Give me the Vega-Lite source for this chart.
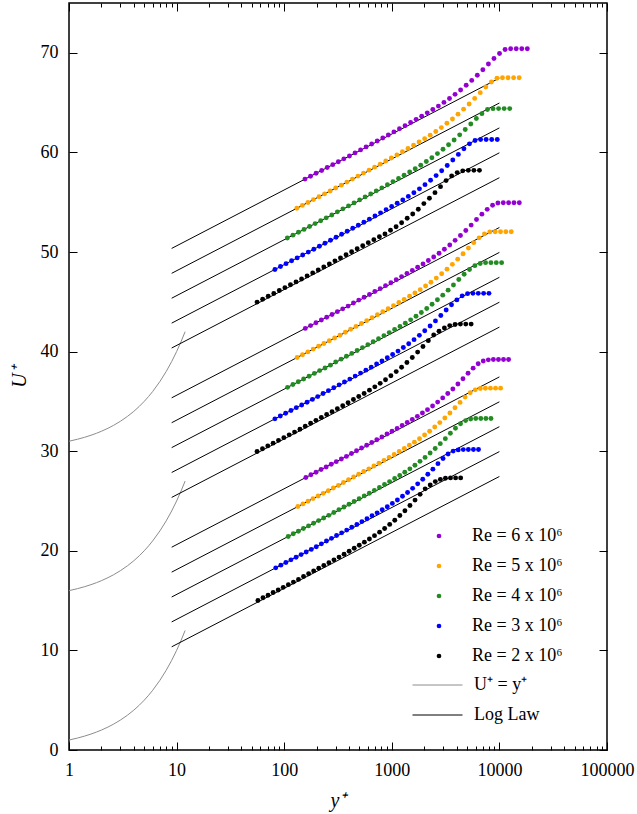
{
"$schema":"https://vega.github.io/schema/vega-lite/v6.json",
"width":538,"height":747,
"autosize":"none",
"padding":{"left":69,"top":3,"right":30,"bottom":64},
"background":"white",
"config":{
 "view":{"stroke":"black","strokeWidth":1.5},
 "axis":{"domain":false,"grid":false,"tickColor":"black","tickWidth":1,"labelFont":"Liberation Serif","labelFontSize":18,"labelColor":"black","labelFlush":false,"labelOverlap":false,"titleFont":"Liberation Serif","titleFontSize":20,"titleFontWeight":"normal","titleFontStyle":"italic","titleColor":"black"},
 "legend":{"labelFont":"Liberation Serif","labelFontSize":18,"labelColor":"black","padding":0,"rowPadding":12,"clipHeight":18}
},
"datasets":{
"wall":[
{"id":"w0","kind":"U⁺ = y⁺","x":1,"u":1},{"id":"w0","kind":"U⁺ = y⁺","x":1.2,"u":1.2},{"id":"w0","kind":"U⁺ = y⁺","x":1.4,"u":1.4},{"id":"w0","kind":"U⁺ = y⁺","x":1.6,"u":1.6},{"id":"w0","kind":"U⁺ = y⁺","x":1.8,"u":1.8},{"id":"w0","kind":"U⁺ = y⁺","x":2,"u":2},{"id":"w0","kind":"U⁺ = y⁺","x":2.3,"u":2.3},{"id":"w0","kind":"U⁺ = y⁺","x":2.6,"u":2.6},{"id":"w0","kind":"U⁺ = y⁺","x":3,"u":3},{"id":"w0","kind":"U⁺ = y⁺","x":3.5,"u":3.5},{"id":"w0","kind":"U⁺ = y⁺","x":4,"u":4},{"id":"w0","kind":"U⁺ = y⁺","x":4.5,"u":4.5},{"id":"w0","kind":"U⁺ = y⁺","x":5,"u":5},{"id":"w0","kind":"U⁺ = y⁺","x":5.5,"u":5.5},{"id":"w0","kind":"U⁺ = y⁺","x":6,"u":6},{"id":"w0","kind":"U⁺ = y⁺","x":7,"u":7},{"id":"w0","kind":"U⁺ = y⁺","x":8,"u":8},{"id":"w0","kind":"U⁺ = y⁺","x":9,"u":9},{"id":"w0","kind":"U⁺ = y⁺","x":10,"u":10},{"id":"w0","kind":"U⁺ = y⁺","x":11,"u":11},{"id":"w0","kind":"U⁺ = y⁺","x":12,"u":12},
{"id":"w15","kind":"U⁺ = y⁺","x":1,"u":16},{"id":"w15","kind":"U⁺ = y⁺","x":1.2,"u":16.2},{"id":"w15","kind":"U⁺ = y⁺","x":1.4,"u":16.4},{"id":"w15","kind":"U⁺ = y⁺","x":1.6,"u":16.6},{"id":"w15","kind":"U⁺ = y⁺","x":1.8,"u":16.8},{"id":"w15","kind":"U⁺ = y⁺","x":2,"u":17},{"id":"w15","kind":"U⁺ = y⁺","x":2.3,"u":17.3},{"id":"w15","kind":"U⁺ = y⁺","x":2.6,"u":17.6},{"id":"w15","kind":"U⁺ = y⁺","x":3,"u":18},{"id":"w15","kind":"U⁺ = y⁺","x":3.5,"u":18.5},{"id":"w15","kind":"U⁺ = y⁺","x":4,"u":19},{"id":"w15","kind":"U⁺ = y⁺","x":4.5,"u":19.5},{"id":"w15","kind":"U⁺ = y⁺","x":5,"u":20},{"id":"w15","kind":"U⁺ = y⁺","x":5.5,"u":20.5},{"id":"w15","kind":"U⁺ = y⁺","x":6,"u":21},{"id":"w15","kind":"U⁺ = y⁺","x":7,"u":22},{"id":"w15","kind":"U⁺ = y⁺","x":8,"u":23},{"id":"w15","kind":"U⁺ = y⁺","x":9,"u":24},{"id":"w15","kind":"U⁺ = y⁺","x":10,"u":25},{"id":"w15","kind":"U⁺ = y⁺","x":11,"u":26},{"id":"w15","kind":"U⁺ = y⁺","x":12,"u":27},
{"id":"w30","kind":"U⁺ = y⁺","x":1,"u":31},{"id":"w30","kind":"U⁺ = y⁺","x":1.2,"u":31.2},{"id":"w30","kind":"U⁺ = y⁺","x":1.4,"u":31.4},{"id":"w30","kind":"U⁺ = y⁺","x":1.6,"u":31.6},{"id":"w30","kind":"U⁺ = y⁺","x":1.8,"u":31.8},{"id":"w30","kind":"U⁺ = y⁺","x":2,"u":32},{"id":"w30","kind":"U⁺ = y⁺","x":2.3,"u":32.3},{"id":"w30","kind":"U⁺ = y⁺","x":2.6,"u":32.6},{"id":"w30","kind":"U⁺ = y⁺","x":3,"u":33},{"id":"w30","kind":"U⁺ = y⁺","x":3.5,"u":33.5},{"id":"w30","kind":"U⁺ = y⁺","x":4,"u":34},{"id":"w30","kind":"U⁺ = y⁺","x":4.5,"u":34.5},{"id":"w30","kind":"U⁺ = y⁺","x":5,"u":35},{"id":"w30","kind":"U⁺ = y⁺","x":5.5,"u":35.5},{"id":"w30","kind":"U⁺ = y⁺","x":6,"u":36},{"id":"w30","kind":"U⁺ = y⁺","x":7,"u":37},{"id":"w30","kind":"U⁺ = y⁺","x":8,"u":38},{"id":"w30","kind":"U⁺ = y⁺","x":9,"u":39},{"id":"w30","kind":"U⁺ = y⁺","x":10,"u":40},{"id":"w30","kind":"U⁺ = y⁺","x":11,"u":41},{"id":"w30","kind":"U⁺ = y⁺","x":12,"u":42}
],
"loglaw":[
{"id":"L1","kind":"Log Law","x":9,"u":10.36},{"id":"L1","kind":"Log Law","x":10000,"u":27.46},
{"id":"L2","kind":"Log Law","x":9,"u":12.86},{"id":"L2","kind":"Log Law","x":10000,"u":29.96},
{"id":"L3","kind":"Log Law","x":9,"u":15.36},{"id":"L3","kind":"Log Law","x":10000,"u":32.46},
{"id":"L4","kind":"Log Law","x":9,"u":17.86},{"id":"L4","kind":"Log Law","x":10000,"u":34.96},
{"id":"L5","kind":"Log Law","x":9,"u":20.36},{"id":"L5","kind":"Log Law","x":10000,"u":37.46},
{"id":"L6","kind":"Log Law","x":9,"u":25.36},{"id":"L6","kind":"Log Law","x":10000,"u":42.46},
{"id":"L7","kind":"Log Law","x":9,"u":27.86},{"id":"L7","kind":"Log Law","x":10000,"u":44.96},
{"id":"L8","kind":"Log Law","x":9,"u":30.36},{"id":"L8","kind":"Log Law","x":10000,"u":47.46},
{"id":"L9","kind":"Log Law","x":9,"u":32.86},{"id":"L9","kind":"Log Law","x":10000,"u":49.96},
{"id":"L10","kind":"Log Law","x":9,"u":35.36},{"id":"L10","kind":"Log Law","x":10000,"u":52.46},
{"id":"L11","kind":"Log Law","x":9,"u":40.36},{"id":"L11","kind":"Log Law","x":10000,"u":57.46},
{"id":"L12","kind":"Log Law","x":9,"u":42.86},{"id":"L12","kind":"Log Law","x":10000,"u":59.96},
{"id":"L13","kind":"Log Law","x":9,"u":45.36},{"id":"L13","kind":"Log Law","x":10000,"u":62.46},
{"id":"L14","kind":"Log Law","x":9,"u":47.86},{"id":"L14","kind":"Log Law","x":10000,"u":64.96},
{"id":"L15","kind":"Log Law","x":9,"u":50.36},{"id":"L15","kind":"Log Law","x":10000,"u":67.46}
],
"pts":[
{"r":6,"x":156,"u":57.32},{"r":6,"x":175.7,"u":57.61},{"r":6,"x":197.9,"u":57.9},{"r":6,"x":222.9,"u":58.19},{"r":6,"x":251.1,"u":58.48},{"r":6,"x":282.8,"u":58.77},{"r":6,"x":318.5,"u":59.06},{"r":6,"x":358.7,"u":59.35},{"r":6,"x":404,"u":59.64},{"r":6,"x":455,"u":59.95},{"r":6,"x":512.5,"u":60.25},{"r":6,"x":577.2,"u":60.55},{"r":6,"x":650.2,"u":60.85},{"r":6,"x":732.3,"u":61.15},{"r":6,"x":824.8,"u":61.45},{"r":6,"x":929,"u":61.75},{"r":6,"x":1046,"u":62.06},{"r":6,"x":1178,"u":62.37},{"r":6,"x":1327,"u":62.68},{"r":6,"x":1495,"u":63.0},{"r":6,"x":1684,"u":63.32},{"r":6,"x":1897,"u":63.64},{"r":6,"x":2136,"u":63.97},{"r":6,"x":2406,"u":64.3},{"r":6,"x":2710,"u":64.65},{"r":6,"x":3052,"u":65.02},{"r":6,"x":3438,"u":65.41},{"r":6,"x":3872,"u":65.83},{"r":6,"x":4361,"u":66.27},{"r":6,"x":4912,"u":66.74},{"r":6,"x":5532,"u":67.23},{"r":6,"x":6231,"u":67.75},{"r":6,"x":7018,"u":68.3},{"r":6,"x":7904,"u":68.87},{"r":6,"x":8903,"u":69.43},{"r":6,"x":10027,"u":69.93},{"r":6,"x":11294,"u":70.33},{"r":6,"x":12721,"u":70.4},{"r":6,"x":14328,"u":70.4},{"r":6,"x":16137,"u":70.4},{"r":6,"x":18176,"u":70.4},
{"r":5,"x":131,"u":54.39},{"r":5,"x":147.5,"u":54.68},{"r":5,"x":166.2,"u":54.97},{"r":5,"x":187.2,"u":55.26},{"r":5,"x":210.8,"u":55.55},{"r":5,"x":237.4,"u":55.84},{"r":5,"x":267.4,"u":56.13},{"r":5,"x":301.2,"u":56.42},{"r":5,"x":339.3,"u":56.71},{"r":5,"x":382.1,"u":57.02},{"r":5,"x":430.4,"u":57.32},{"r":5,"x":484.7,"u":57.62},{"r":5,"x":546,"u":57.92},{"r":5,"x":614.9,"u":58.22},{"r":5,"x":692.6,"u":58.52},{"r":5,"x":780.1,"u":58.82},{"r":5,"x":878.6,"u":59.13},{"r":5,"x":989.6,"u":59.44},{"r":5,"x":1115,"u":59.75},{"r":5,"x":1255,"u":60.07},{"r":5,"x":1414,"u":60.4},{"r":5,"x":1593,"u":60.72},{"r":5,"x":1794,"u":61.05},{"r":5,"x":2020,"u":61.38},{"r":5,"x":2275,"u":61.73},{"r":5,"x":2563,"u":62.1},{"r":5,"x":2887,"u":62.49},{"r":5,"x":3251,"u":62.92},{"r":5,"x":3662,"u":63.36},{"r":5,"x":4125,"u":63.84},{"r":5,"x":4646,"u":64.34},{"r":5,"x":5232,"u":64.86},{"r":5,"x":5893,"u":65.42},{"r":5,"x":6638,"u":66.0},{"r":5,"x":7476,"u":66.56},{"r":5,"x":8420,"u":67.07},{"r":5,"x":9484,"u":67.45},{"r":5,"x":10682,"u":67.5},{"r":5,"x":12031,"u":67.5},{"r":5,"x":13551,"u":67.5},{"r":5,"x":15263,"u":67.5},
{"r":4,"x":107,"u":51.4},{"r":4,"x":120.5,"u":51.69},{"r":4,"x":135.7,"u":51.98},{"r":4,"x":152.9,"u":52.27},{"r":4,"x":172.2,"u":52.56},{"r":4,"x":193.9,"u":52.85},{"r":4,"x":218.4,"u":53.14},{"r":4,"x":246,"u":53.43},{"r":4,"x":277.1,"u":53.72},{"r":4,"x":312.1,"u":54.03},{"r":4,"x":351.5,"u":54.33},{"r":4,"x":395.9,"u":54.63},{"r":4,"x":445.9,"u":54.93},{"r":4,"x":502.3,"u":55.23},{"r":4,"x":565.7,"u":55.53},{"r":4,"x":637.2,"u":55.83},{"r":4,"x":717.6,"u":56.14},{"r":4,"x":808.3,"u":56.44},{"r":4,"x":910.4,"u":56.75},{"r":4,"x":1025,"u":57.07},{"r":4,"x":1155,"u":57.39},{"r":4,"x":1301,"u":57.71},{"r":4,"x":1465,"u":58.04},{"r":4,"x":1650,"u":58.36},{"r":4,"x":1859,"u":58.71},{"r":4,"x":2093,"u":59.08},{"r":4,"x":2358,"u":59.46},{"r":4,"x":2656,"u":59.88},{"r":4,"x":2991,"u":60.31},{"r":4,"x":3369,"u":60.77},{"r":4,"x":3794,"u":61.25},{"r":4,"x":4274,"u":61.76},{"r":4,"x":4814,"u":62.3},{"r":4,"x":5422,"u":62.85},{"r":4,"x":6106,"u":63.4},{"r":4,"x":6878,"u":63.89},{"r":4,"x":7747,"u":64.3},{"r":4,"x":8725,"u":64.39},{"r":4,"x":9827,"u":64.4},{"r":4,"x":11068,"u":64.4},{"r":4,"x":12467,"u":64.4},
{"r":3,"x":82,"u":48.25},{"r":3,"x":92.36,"u":48.54},{"r":3,"x":104,"u":48.83},{"r":3,"x":117.2,"u":49.12},{"r":3,"x":132,"u":49.41},{"r":3,"x":148.6,"u":49.7},{"r":3,"x":167.4,"u":49.99},{"r":3,"x":188.5,"u":50.28},{"r":3,"x":212.4,"u":50.57},{"r":3,"x":239.2,"u":50.88},{"r":3,"x":269.4,"u":51.18},{"r":3,"x":303.4,"u":51.48},{"r":3,"x":341.8,"u":51.78},{"r":3,"x":384.9,"u":52.08},{"r":3,"x":433.5,"u":52.38},{"r":3,"x":488.3,"u":52.68},{"r":3,"x":550,"u":52.99},{"r":3,"x":619.4,"u":53.3},{"r":3,"x":697.7,"u":53.61},{"r":3,"x":785.8,"u":53.93},{"r":3,"x":885.1,"u":54.25},{"r":3,"x":996.9,"u":54.57},{"r":3,"x":1123,"u":54.9},{"r":3,"x":1265,"u":55.23},{"r":3,"x":1424,"u":55.58},{"r":3,"x":1604,"u":55.95},{"r":3,"x":1807,"u":56.34},{"r":3,"x":2035,"u":56.76},{"r":3,"x":2292,"u":57.2},{"r":3,"x":2582,"u":57.67},{"r":3,"x":2908,"u":58.16},{"r":3,"x":3275,"u":58.68},{"r":3,"x":3689,"u":59.23},{"r":3,"x":4155,"u":59.8},{"r":3,"x":4680,"u":60.36},{"r":3,"x":5271,"u":60.86},{"r":3,"x":5937,"u":61.2},{"r":3,"x":6687,"u":61.29},{"r":3,"x":7531,"u":61.3},{"r":3,"x":8482,"u":61.3},{"r":3,"x":9554,"u":61.3},
{"r":2,"x":56,"u":44.97},{"r":2,"x":63.07,"u":45.26},{"r":2,"x":71.04,"u":45.55},{"r":2,"x":80.01,"u":45.84},{"r":2,"x":90.12,"u":46.13},{"r":2,"x":101.5,"u":46.42},{"r":2,"x":114.3,"u":46.71},{"r":2,"x":128.8,"u":47.0},{"r":2,"x":145,"u":47.29},{"r":2,"x":163.3,"u":47.6},{"r":2,"x":184,"u":47.9},{"r":2,"x":207.2,"u":48.2},{"r":2,"x":233.4,"u":48.5},{"r":2,"x":262.9,"u":48.8},{"r":2,"x":296.1,"u":49.11},{"r":2,"x":333.5,"u":49.41},{"r":2,"x":375.6,"u":49.72},{"r":2,"x":423,"u":50.02},{"r":2,"x":476.5,"u":50.32},{"r":2,"x":536.7,"u":50.63},{"r":2,"x":604.5,"u":50.94},{"r":2,"x":680.8,"u":51.24},{"r":2,"x":766.8,"u":51.53},{"r":2,"x":863.6,"u":51.81},{"r":2,"x":972.7,"u":52.18},{"r":2,"x":1096,"u":52.54},{"r":2,"x":1234,"u":52.94},{"r":2,"x":1390,"u":53.39},{"r":2,"x":1565,"u":53.82},{"r":2,"x":1763,"u":54.29},{"r":2,"x":1986,"u":54.86},{"r":2,"x":2237,"u":55.4},{"r":2,"x":2519,"u":55.96},{"r":2,"x":2837,"u":56.56},{"r":2,"x":3196,"u":57.17},{"r":2,"x":3600,"u":57.64},{"r":2,"x":4054,"u":57.97},{"r":2,"x":4566,"u":58.15},{"r":2,"x":5143,"u":58.2},{"r":2,"x":5793,"u":58.2},{"r":2,"x":6525,"u":58.2},
{"r":6,"x":157,"u":42.33},{"r":6,"x":176,"u":42.61},{"r":6,"x":197.4,"u":42.89},{"r":6,"x":221.4,"u":43.17},{"r":6,"x":248.2,"u":43.45},{"r":6,"x":278.3,"u":43.73},{"r":6,"x":312.1,"u":44.01},{"r":6,"x":350,"u":44.29},{"r":6,"x":392.4,"u":44.57},{"r":6,"x":440,"u":44.88},{"r":6,"x":493.4,"u":45.17},{"r":6,"x":553.3,"u":45.45},{"r":6,"x":620.4,"u":45.74},{"r":6,"x":695.6,"u":46.03},{"r":6,"x":780,"u":46.32},{"r":6,"x":874.7,"u":46.62},{"r":6,"x":980.8,"u":46.92},{"r":6,"x":1100,"u":47.22},{"r":6,"x":1233,"u":47.53},{"r":6,"x":1383,"u":47.84},{"r":6,"x":1551,"u":48.15},{"r":6,"x":1739,"u":48.47},{"r":6,"x":1950,"u":48.8},{"r":6,"x":2186,"u":49.14},{"r":6,"x":2451,"u":49.5},{"r":6,"x":2749,"u":49.87},{"r":6,"x":3082,"u":50.28},{"r":6,"x":3456,"u":50.71},{"r":6,"x":3876,"u":51.17},{"r":6,"x":4346,"u":51.65},{"r":6,"x":4873,"u":52.16},{"r":6,"x":5464,"u":52.7},{"r":6,"x":6127,"u":53.26},{"r":6,"x":6870,"u":53.8},{"r":6,"x":7704,"u":54.28},{"r":6,"x":8639,"u":54.69},{"r":6,"x":9687,"u":54.92},{"r":6,"x":10862,"u":54.95},{"r":6,"x":12180,"u":54.95},{"r":6,"x":13657,"u":54.95},{"r":6,"x":15314,"u":54.95},
{"r":5,"x":132,"u":39.41},{"r":5,"x":148,"u":39.69},{"r":5,"x":166,"u":39.97},{"r":5,"x":186.1,"u":40.25},{"r":5,"x":208.7,"u":40.53},{"r":5,"x":234,"u":40.81},{"r":5,"x":262.4,"u":41.09},{"r":5,"x":294.2,"u":41.36},{"r":5,"x":329.9,"u":41.64},{"r":5,"x":370,"u":41.95},{"r":5,"x":414.8,"u":42.24},{"r":5,"x":465.2,"u":42.53},{"r":5,"x":521.6,"u":42.82},{"r":5,"x":584.9,"u":43.11},{"r":5,"x":655.8,"u":43.4},{"r":5,"x":735.4,"u":43.7},{"r":5,"x":824.6,"u":44.0},{"r":5,"x":924.6,"u":44.3},{"r":5,"x":1037,"u":44.61},{"r":5,"x":1163,"u":44.93},{"r":5,"x":1304,"u":45.24},{"r":5,"x":1462,"u":45.55},{"r":5,"x":1639,"u":45.88},{"r":5,"x":1838,"u":46.22},{"r":5,"x":2061,"u":46.58},{"r":5,"x":2311,"u":46.96},{"r":5,"x":2591,"u":47.38},{"r":5,"x":2906,"u":47.81},{"r":5,"x":3258,"u":48.28},{"r":5,"x":3654,"u":48.76},{"r":5,"x":4097,"u":49.28},{"r":5,"x":4594,"u":49.82},{"r":5,"x":5151,"u":50.39},{"r":5,"x":5776,"u":50.94},{"r":5,"x":6477,"u":51.42},{"r":5,"x":7263,"u":51.82},{"r":5,"x":8144,"u":52.02},{"r":5,"x":9132,"u":52.04},{"r":5,"x":10240,"u":52.04},{"r":5,"x":11483,"u":52.04},{"r":5,"x":12875,"u":52.04},
{"r":4,"x":107.5,"u":36.41},{"r":4,"x":120.5,"u":36.69},{"r":4,"x":135.2,"u":36.97},{"r":4,"x":151.6,"u":37.25},{"r":4,"x":170,"u":37.53},{"r":4,"x":190.6,"u":37.81},{"r":4,"x":213.7,"u":38.09},{"r":4,"x":239.6,"u":38.36},{"r":4,"x":268.7,"u":38.64},{"r":4,"x":301.3,"u":38.95},{"r":4,"x":337.8,"u":39.24},{"r":4,"x":378.8,"u":39.53},{"r":4,"x":424.8,"u":39.82},{"r":4,"x":476.3,"u":40.11},{"r":4,"x":534.1,"u":40.4},{"r":4,"x":598.9,"u":40.7},{"r":4,"x":671.6,"u":40.99},{"r":4,"x":753,"u":41.29},{"r":4,"x":844.4,"u":41.6},{"r":4,"x":946.8,"u":41.91},{"r":4,"x":1062,"u":42.22},{"r":4,"x":1191,"u":42.53},{"r":4,"x":1335,"u":42.85},{"r":4,"x":1497,"u":43.19},{"r":4,"x":1678,"u":43.55},{"r":4,"x":1882,"u":43.92},{"r":4,"x":2111,"u":44.33},{"r":4,"x":2367,"u":44.75},{"r":4,"x":2654,"u":45.2},{"r":4,"x":2976,"u":45.67},{"r":4,"x":3337,"u":46.17},{"r":4,"x":3741,"u":46.69},{"r":4,"x":4195,"u":47.24},{"r":4,"x":4704,"u":47.77},{"r":4,"x":5275,"u":48.24},{"r":4,"x":5915,"u":48.63},{"r":4,"x":6633,"u":48.85},{"r":4,"x":7437,"u":48.93},{"r":4,"x":8340,"u":48.93},{"r":4,"x":9351,"u":48.93},{"r":4,"x":10486,"u":48.93},
{"r":3,"x":82,"u":33.25},{"r":3,"x":91.95,"u":33.53},{"r":3,"x":103.1,"u":33.81},{"r":3,"x":115.6,"u":34.09},{"r":3,"x":129.6,"u":34.37},{"r":3,"x":145.4,"u":34.64},{"r":3,"x":163,"u":34.92},{"r":3,"x":182.8,"u":35.2},{"r":3,"x":205,"u":35.48},{"r":3,"x":229.8,"u":35.79},{"r":3,"x":257.7,"u":36.08},{"r":3,"x":289,"u":36.37},{"r":3,"x":324,"u":36.66},{"r":3,"x":363.3,"u":36.95},{"r":3,"x":407.4,"u":37.24},{"r":3,"x":456.8,"u":37.54},{"r":3,"x":512.3,"u":37.84},{"r":3,"x":574.4,"u":38.14},{"r":3,"x":644.1,"u":38.44},{"r":3,"x":722.2,"u":38.75},{"r":3,"x":809.9,"u":39.06},{"r":3,"x":908.1,"u":39.38},{"r":3,"x":1018,"u":39.71},{"r":3,"x":1142,"u":40.05},{"r":3,"x":1280,"u":40.41},{"r":3,"x":1436,"u":40.79},{"r":3,"x":1610,"u":41.2},{"r":3,"x":1805,"u":41.63},{"r":3,"x":2024,"u":42.09},{"r":3,"x":2270,"u":42.57},{"r":3,"x":2545,"u":43.08},{"r":3,"x":2854,"u":43.62},{"r":3,"x":3200,"u":44.18},{"r":3,"x":3588,"u":44.71},{"r":3,"x":4024,"u":45.19},{"r":3,"x":4512,"u":45.6},{"r":3,"x":5059,"u":45.82},{"r":3,"x":5673,"u":45.85},{"r":3,"x":6361,"u":45.85},{"r":3,"x":7133,"u":45.85},{"r":3,"x":7998,"u":45.85},
{"r":2,"x":56,"u":29.97},{"r":2,"x":62.79,"u":30.25},{"r":2,"x":70.41,"u":30.53},{"r":2,"x":78.95,"u":30.81},{"r":2,"x":88.53,"u":31.09},{"r":2,"x":99.27,"u":31.36},{"r":2,"x":111.3,"u":31.64},{"r":2,"x":124.8,"u":31.92},{"r":2,"x":140,"u":32.2},{"r":2,"x":156.9,"u":32.51},{"r":2,"x":176,"u":32.8},{"r":2,"x":197.3,"u":33.1},{"r":2,"x":221.3,"u":33.39},{"r":2,"x":248.1,"u":33.68},{"r":2,"x":278.2,"u":33.97},{"r":2,"x":312,"u":34.27},{"r":2,"x":349.8,"u":34.57},{"r":2,"x":392.3,"u":34.87},{"r":2,"x":439.9,"u":35.19},{"r":2,"x":493.2,"u":35.49},{"r":2,"x":553.1,"u":35.8},{"r":2,"x":620.2,"u":36.13},{"r":2,"x":695.4,"u":36.46},{"r":2,"x":779.8,"u":36.81},{"r":2,"x":874.4,"u":37.18},{"r":2,"x":980.5,"u":37.57},{"r":2,"x":1099,"u":37.99},{"r":2,"x":1233,"u":38.43},{"r":2,"x":1382,"u":38.91},{"r":2,"x":1550,"u":39.41},{"r":2,"x":1738,"u":39.95},{"r":2,"x":1949,"u":40.51},{"r":2,"x":2185,"u":41.1},{"r":2,"x":2451,"u":41.66},{"r":2,"x":2748,"u":42.05},{"r":2,"x":3081,"u":42.38},{"r":2,"x":3455,"u":42.61},{"r":2,"x":3874,"u":42.72},{"r":2,"x":4344,"u":42.76},{"r":2,"x":4871,"u":42.76},{"r":2,"x":5462,"u":42.76},
{"r":6,"x":159,"u":27.36},{"r":6,"x":177.2,"u":27.63},{"r":6,"x":197.5,"u":27.89},{"r":6,"x":220.1,"u":28.16},{"r":6,"x":245.4,"u":28.42},{"r":6,"x":273.5,"u":28.69},{"r":6,"x":304.8,"u":28.95},{"r":6,"x":339.7,"u":29.22},{"r":6,"x":378.6,"u":29.48},{"r":6,"x":422,"u":29.77},{"r":6,"x":470.3,"u":30.05},{"r":6,"x":524.2,"u":30.32},{"r":6,"x":584.2,"u":30.6},{"r":6,"x":651.2,"u":30.87},{"r":6,"x":725.8,"u":31.15},{"r":6,"x":808.9,"u":31.43},{"r":6,"x":901.6,"u":31.72},{"r":6,"x":1005,"u":32.0},{"r":6,"x":1120,"u":32.29},{"r":6,"x":1248,"u":32.59},{"r":6,"x":1391,"u":32.88},{"r":6,"x":1551,"u":33.19},{"r":6,"x":1728,"u":33.5},{"r":6,"x":1926,"u":33.83},{"r":6,"x":2147,"u":34.17},{"r":6,"x":2393,"u":34.54},{"r":6,"x":2667,"u":34.93},{"r":6,"x":2972,"u":35.35},{"r":6,"x":3313,"u":35.79},{"r":6,"x":3692,"u":36.25},{"r":6,"x":4115,"u":36.75},{"r":6,"x":4587,"u":37.27},{"r":6,"x":5112,"u":37.82},{"r":6,"x":5698,"u":38.34},{"r":6,"x":6350,"u":38.78},{"r":6,"x":7078,"u":39.06},{"r":6,"x":7888,"u":39.17},{"r":6,"x":8792,"u":39.2},{"r":6,"x":9799,"u":39.2},{"r":6,"x":10922,"u":39.2},{"r":6,"x":12173,"u":39.2},
{"r":5,"x":134,"u":24.45},{"r":5,"x":149.4,"u":24.71},{"r":5,"x":166.5,"u":24.98},{"r":5,"x":185.5,"u":25.24},{"r":5,"x":206.8,"u":25.5},{"r":5,"x":230.5,"u":25.77},{"r":5,"x":256.9,"u":26.03},{"r":5,"x":286.3,"u":26.3},{"r":5,"x":319.1,"u":26.56},{"r":5,"x":355.6,"u":26.86},{"r":5,"x":396.4,"u":27.13},{"r":5,"x":441.8,"u":27.41},{"r":5,"x":492.4,"u":27.68},{"r":5,"x":548.8,"u":27.96},{"r":5,"x":611.7,"u":28.23},{"r":5,"x":681.7,"u":28.51},{"r":5,"x":759.8,"u":28.8},{"r":5,"x":846.8,"u":29.08},{"r":5,"x":943.8,"u":29.38},{"r":5,"x":1052,"u":29.67},{"r":5,"x":1172,"u":29.97},{"r":5,"x":1307,"u":30.27},{"r":5,"x":1456,"u":30.59},{"r":5,"x":1623,"u":30.91},{"r":5,"x":1809,"u":31.25},{"r":5,"x":2017,"u":31.62},{"r":5,"x":2248,"u":32.01},{"r":5,"x":2505,"u":32.43},{"r":5,"x":2792,"u":32.87},{"r":5,"x":3112,"u":33.34},{"r":5,"x":3468,"u":33.83},{"r":5,"x":3865,"u":34.36},{"r":5,"x":4308,"u":34.9},{"r":5,"x":4802,"u":35.43},{"r":5,"x":5352,"u":35.87},{"r":5,"x":5965,"u":36.16},{"r":5,"x":6648,"u":36.29},{"r":5,"x":7410,"u":36.32},{"r":5,"x":8258,"u":36.33},{"r":5,"x":9204,"u":36.33},{"r":5,"x":10259,"u":36.33},
{"r":4,"x":109,"u":21.44},{"r":4,"x":121.5,"u":21.71},{"r":4,"x":135.4,"u":21.97},{"r":4,"x":150.9,"u":22.24},{"r":4,"x":168.2,"u":22.5},{"r":4,"x":187.5,"u":22.77},{"r":4,"x":208.9,"u":23.03},{"r":4,"x":232.9,"u":23.29},{"r":4,"x":259.6,"u":23.56},{"r":4,"x":289.3,"u":23.85},{"r":4,"x":322.4,"u":24.13},{"r":4,"x":359.4,"u":24.4},{"r":4,"x":400.5,"u":24.68},{"r":4,"x":446.4,"u":24.95},{"r":4,"x":497.5,"u":25.23},{"r":4,"x":554.5,"u":25.51},{"r":4,"x":618,"u":25.78},{"r":4,"x":688.9,"u":26.07},{"r":4,"x":767.8,"u":26.36},{"r":4,"x":855.7,"u":26.66},{"r":4,"x":953.7,"u":26.95},{"r":4,"x":1063,"u":27.26},{"r":4,"x":1185,"u":27.56},{"r":4,"x":1320,"u":27.89},{"r":4,"x":1472,"u":28.23},{"r":4,"x":1640,"u":28.59},{"r":4,"x":1828,"u":28.98},{"r":4,"x":2038,"u":29.38},{"r":4,"x":2271,"u":29.82},{"r":4,"x":2531,"u":30.27},{"r":4,"x":2821,"u":30.76},{"r":4,"x":3144,"u":31.26},{"r":4,"x":3504,"u":31.8},{"r":4,"x":3906,"u":32.31},{"r":4,"x":4353,"u":32.76},{"r":4,"x":4852,"u":33.07},{"r":4,"x":5408,"u":33.23},{"r":4,"x":6027,"u":33.28},{"r":4,"x":6718,"u":33.29},{"r":4,"x":7487,"u":33.29},{"r":4,"x":8345,"u":33.29},
{"r":3,"x":83.5,"u":18.29},{"r":3,"x":93.07,"u":18.56},{"r":3,"x":103.7,"u":18.82},{"r":3,"x":115.6,"u":19.09},{"r":3,"x":128.9,"u":19.35},{"r":3,"x":143.6,"u":19.62},{"r":3,"x":160.1,"u":19.88},{"r":3,"x":178.4,"u":20.14},{"r":3,"x":198.8,"u":20.41},{"r":3,"x":221.6,"u":20.7},{"r":3,"x":247,"u":20.98},{"r":3,"x":275.3,"u":21.25},{"r":3,"x":306.8,"u":21.53},{"r":3,"x":342,"u":21.8},{"r":3,"x":381.1,"u":22.08},{"r":3,"x":424.8,"u":22.36},{"r":3,"x":473.5,"u":22.64},{"r":3,"x":527.7,"u":22.93},{"r":3,"x":588.1,"u":23.22},{"r":3,"x":655.5,"u":23.52},{"r":3,"x":730.6,"u":23.81},{"r":3,"x":814.3,"u":24.12},{"r":3,"x":907.6,"u":24.43},{"r":3,"x":1012,"u":24.76},{"r":3,"x":1127,"u":25.1},{"r":3,"x":1257,"u":25.47},{"r":3,"x":1401,"u":25.86},{"r":3,"x":1561,"u":26.27},{"r":3,"x":1740,"u":26.72},{"r":3,"x":1939,"u":27.18},{"r":3,"x":2161,"u":27.68},{"r":3,"x":2409,"u":28.2},{"r":3,"x":2685,"u":28.75},{"r":3,"x":2992,"u":29.27},{"r":3,"x":3335,"u":29.72},{"r":3,"x":3717,"u":30.01},{"r":3,"x":4143,"u":30.13},{"r":3,"x":4617,"u":30.16},{"r":3,"x":5146,"u":30.17},{"r":3,"x":5736,"u":30.17},{"r":3,"x":6393,"u":30.17},
{"r":2,"x":57,"u":15.01},{"r":2,"x":63.53,"u":15.28},{"r":2,"x":70.81,"u":15.54},{"r":2,"x":78.92,"u":15.81},{"r":2,"x":87.96,"u":16.07},{"r":2,"x":98.03,"u":16.33},{"r":2,"x":109.3,"u":16.6},{"r":2,"x":121.8,"u":16.86},{"r":2,"x":135.7,"u":17.13},{"r":2,"x":151.3,"u":17.42},{"r":2,"x":168.6,"u":17.7},{"r":2,"x":187.9,"u":17.98},{"r":2,"x":209.4,"u":18.26},{"r":2,"x":233.4,"u":18.53},{"r":2,"x":260.2,"u":18.8},{"r":2,"x":290,"u":19.09},{"r":2,"x":323.2,"u":19.37},{"r":2,"x":360.2,"u":19.66},{"r":2,"x":401.5,"u":19.96},{"r":2,"x":447.5,"u":20.26},{"r":2,"x":498.7,"u":20.55},{"r":2,"x":555.9,"u":20.87},{"r":2,"x":619.5,"u":21.18},{"r":2,"x":690.5,"u":21.52},{"r":2,"x":769.6,"u":21.87},{"r":2,"x":857.8,"u":22.24},{"r":2,"x":956,"u":22.65},{"r":2,"x":1066,"u":23.07},{"r":2,"x":1188,"u":23.54},{"r":2,"x":1324,"u":24.02},{"r":2,"x":1475,"u":24.55},{"r":2,"x":1644,"u":25.09},{"r":2,"x":1833,"u":25.67},{"r":2,"x":2043,"u":26.22},{"r":2,"x":2276,"u":26.6},{"r":2,"x":2537,"u":26.95},{"r":2,"x":2828,"u":27.17},{"r":2,"x":3152,"u":27.28},{"r":2,"x":3513,"u":27.32},{"r":2,"x":3915,"u":27.32},{"r":2,"x":4364,"u":27.32}
]
},
"resolve":{"axis":{"x":"independent","y":"independent"}},
"layer":[
{"data":{"name":"wall"},"mark":{"type":"line","strokeWidth":1},
 "encoding":{
  "x":{"field":"x","type":"quantitative","scale":{"type":"log","domain":[1,100000],"nice":false},"axis":{"orient":"bottom","values":[1,10,100,1000,10000,100000],"format":"d","tickSize":-8,"labelPadding":19.5,"title":"y⁺","titlePadding":11}},
  "y":{"field":"u","type":"quantitative","scale":{"domain":[0,75],"nice":false,"zero":false},"axis":{"orient":"left","values":[0,10,20,30,40,50,60,70],"tickSize":-8,"labelPadding":19,"title":"U⁺","titlePadding":11}},
  "detail":{"field":"id"},
  "stroke":{"field":"kind","type":"nominal","scale":{"domain":["U⁺ = y⁺","Log Law"],"range":["#8c8c8c","#000000"]},"legend":{"orient":"none","legendX":343,"legendY":673,"title":null,"symbolType":"stroke","symbolSize":2500,"symbolStrokeWidth":1,"labelOffset":11}}
 }},
{"data":{"name":"loglaw"},"mark":{"type":"line","strokeWidth":1},
 "encoding":{
  "x":{"field":"x","type":"quantitative","scale":{"type":"log","domain":[1,100000],"nice":false},"axis":{"orient":"bottom","values":[2,3,4,5,6,7,8,9,20,30,40,50,60,70,80,90,200,300,400,500,600,700,800,900,2000,3000,4000,5000,6000,7000,8000,9000,20000,30000,40000,50000,60000,70000,80000,90000],"labels":false,"tickSize":-4,"title":null}},
  "y":{"field":"u","type":"quantitative","scale":{"domain":[0,75],"nice":false,"zero":false},"axis":{"orient":"right","values":[0,10,20,30,40,50,60,70],"labels":false,"tickSize":-8,"title":null}},
  "detail":{"field":"id"},
  "stroke":{"field":"kind","type":"nominal"}
 }},
{"data":{"name":"pts"},"mark":{"type":"circle","size":24,"opacity":1},
 "encoding":{
  "x":{"field":"x","type":"quantitative","scale":{"type":"log","domain":[1,100000],"nice":false},"axis":{"orient":"top","values":[1,10,100,1000,10000,100000],"labels":false,"tickSize":-8,"title":null}},
  "y":{"field":"u","type":"quantitative","scale":{"domain":[0,75],"nice":false,"zero":false},"axis":null},
  "color":{"field":"r","type":"nominal","scale":{"domain":[6,5,4,3,2],"range":["#9400d3","#ffa500","#228b22","#0000ff","#000000"]},"legend":{"orient":"none","legendX":361,"legendY":524,"title":null,"symbolType":"circle","symbolSize":22,"labelOffset":24,"labelExpr":"'Re = ' + datum.label + ' x 10⁶'"}}
 }},
{"data":{"name":"loglaw"},"mark":{"type":"line","opacity":0},
 "encoding":{
  "x":{"field":"x","type":"quantitative","scale":{"type":"log","domain":[1,100000],"nice":false},"axis":{"orient":"top","values":[2,3,4,5,6,7,8,9,20,30,40,50,60,70,80,90,200,300,400,500,600,700,800,900,2000,3000,4000,5000,6000,7000,8000,9000,20000,30000,40000,50000,60000,70000,80000,90000],"labels":false,"tickSize":-4,"title":null}},
  "y":{"field":"u","type":"quantitative","scale":{"domain":[0,75],"nice":false,"zero":false},"axis":null},
  "detail":{"field":"id"}
 }}
]
}
